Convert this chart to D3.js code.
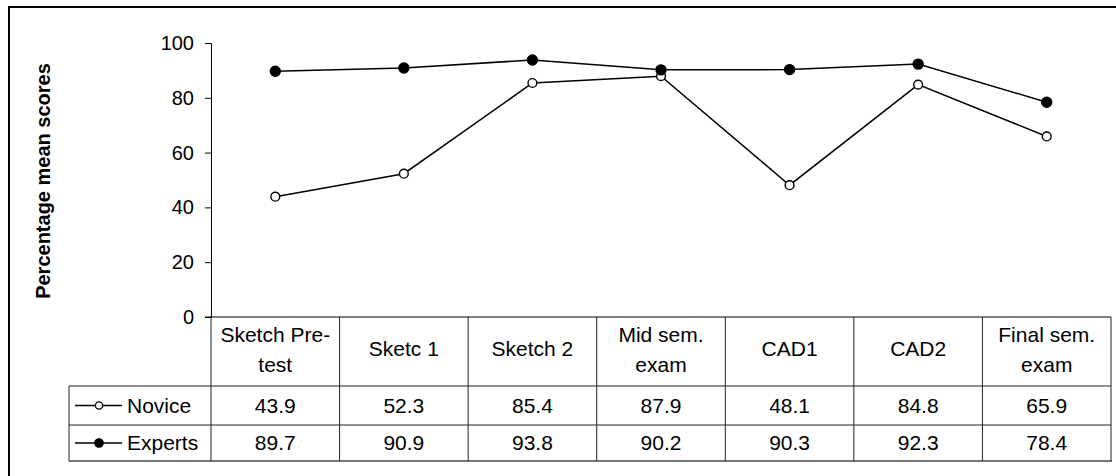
<!DOCTYPE html>
<html>
<head>
<meta charset="utf-8">
<script src="https://cdn.jsdelivr.net/npm/d3@7/dist/d3.min.js"></script>
<style>
  html, body { margin: 0; padding: 0; background: #fff; }
  svg { display: block; font-family: "Liberation Sans", Arial, sans-serif; }
</style>
</head>
<body>
<svg id="chart" width="1116" height="476"></svg>
<script>
// Assessment stages (table header text, split into lines)
const categories = ["Sketch Pre-test", "Sketc 1", "Sketch 2", "Mid sem. exam", "CAD1", "CAD2", "Final sem. exam"];
const categoryLines = [["Sketch Pre-", "test"], ["Sketc 1"], ["Sketch 2"], ["Mid sem.", "exam"], ["CAD1"], ["CAD2"], ["Final sem.", "exam"]];

// Percentage mean scores per group
const noviceScores  = [43.9, 52.3, 85.4, 87.9, 48.1, 84.8, 65.9];
const expertScores  = [89.7, 90.9, 93.8, 90.2, 90.3, 92.3, 78.4];

const seriesNames = ["Novice", "Experts"];
const yTicks = [0, 20, 40, 60, 80, 100];
const yTitle = "Percentage mean scores";

const series = [
  { name: seriesNames[0], values: noviceScores, filled: false },
  { name: seriesNames[1], values: expertScores, filled: true }
];

const svg = d3.select("#chart");

// frame
svg.append("rect")
  .attr("x", 9).attr("y", 7).attr("width", 1130).attr("height", 490)
  .attr("fill", "none").attr("stroke", "#000").attr("stroke-width", 2);

const plotLeft = 211, plotRight = 1111, plotTop = 43, plotBottom = 317;
const headerBottom = 386, row1Bottom = 425, row2Bottom = 461;
const legendLeft = 69;

const x = d3.scaleBand().domain(categories).range([plotLeft, plotRight]);
const y = d3.scaleLinear().domain([0, 100]).range([plotBottom, plotTop]);

// y axis
const yAxis = svg.append("g")
  .attr("transform", `translate(${plotLeft},0)`)
  .call(d3.axisLeft(y).tickValues(yTicks).tickSize(6).tickSizeOuter(6).tickPadding(11));
yAxis.select(".domain").attr("stroke", "#000").attr("stroke-width", 1);
yAxis.selectAll(".tick line").attr("stroke", "#000");
yAxis.selectAll(".tick text")
  .attr("font-size", 20).attr("fill", "#000")
  .attr("font-family", "Liberation Sans, Arial, sans-serif");

svg.append("text")
  .attr("transform", `translate(50,${(plotTop + plotBottom) / 2 + 1}) rotate(-90)`)
  .attr("text-anchor", "middle")
  .attr("font-size", 20).attr("font-weight", "bold")
  .text(yTitle);

// series lines and markers
const line = d3.line()
  .x((d, i) => x(categories[i]) + x.bandwidth() / 2)
  .y(d => y(d));

series.forEach(s => {
  svg.append("path")
    .datum(s.values)
    .attr("d", line)
    .attr("fill", "none").attr("stroke", "#000").attr("stroke-width", 1.5);
  svg.selectAll(null)
    .data(s.values)
    .enter().append("circle")
    .attr("cx", (d, i) => x(categories[i]) + x.bandwidth() / 2)
    .attr("cy", d => y(d))
    .attr("r", s.filled ? 5 : 4.4)
    .attr("fill", s.filled ? "#000" : "#fff")
    .attr("stroke", "#000").attr("stroke-width", 1.4);
});

// data table
const tbl = svg.append("g").attr("stroke", "#222").attr("stroke-width", 1).attr("fill", "none");
// x axis line / header top
tbl.append("line").attr("x1", plotLeft - 6).attr("x2", plotRight).attr("y1", plotBottom).attr("y2", plotBottom).attr("stroke", "#000");
// horizontal rules
tbl.append("line").attr("x1", legendLeft).attr("x2", plotRight).attr("y1", headerBottom).attr("y2", headerBottom);
tbl.append("line").attr("x1", legendLeft).attr("x2", plotRight).attr("y1", row1Bottom).attr("y2", row1Bottom);
tbl.append("line").attr("x1", legendLeft).attr("x2", plotRight + 1).attr("y1", row2Bottom).attr("y2", row2Bottom)
  .attr("stroke", "#777").attr("stroke-width", 2);
// vertical rules
tbl.append("line").attr("x1", legendLeft).attr("x2", legendLeft).attr("y1", headerBottom).attr("y2", row2Bottom);
categories.forEach(c => {
  tbl.append("line").attr("x1", x(c)).attr("x2", x(c)).attr("y1", plotBottom).attr("y2", row2Bottom);
});
tbl.append("line").attr("x1", plotRight).attr("x2", plotRight).attr("y1", plotBottom).attr("y2", row2Bottom);

// header text
const fs = 21;
categories.forEach((c, i) => {
  const lines = categoryLines[i];
  const cx = x(c) + x.bandwidth() / 2;
  const t = svg.append("text").attr("text-anchor", "middle").attr("font-size", fs).attr("fill", "#000");
  if (lines.length === 1) {
    t.append("tspan").attr("x", cx).attr("y", 356).text(lines[0]);
  } else {
    t.append("tspan").attr("x", cx).attr("y", 342).text(lines[0]);
    t.append("tspan").attr("x", cx).attr("y", 372).text(lines[1]);
  }
});

// value rows with legend keys
const rowBaselines = [413, 450];
const rowCenters = [(headerBottom + row1Bottom) / 2, (row1Bottom + row2Bottom) / 2];
series.forEach((s, r) => {
  s.values.forEach((v, i) => {
    svg.append("text")
      .attr("x", x(categories[i]) + x.bandwidth() / 2)
      .attr("y", rowBaselines[r])
      .attr("text-anchor", "middle").attr("font-size", fs)
      .text(d3.format(".1f")(v));
  });
  svg.append("line")
    .attr("x1", 75).attr("x2", 122).attr("y1", rowCenters[r]).attr("y2", rowCenters[r])
    .attr("stroke", "#000").attr("stroke-width", 1.5);
  svg.append("circle")
    .attr("cx", 99).attr("cy", rowCenters[r])
    .attr("r", s.filled ? 4.2 : 3.6)
    .attr("fill", s.filled ? "#000" : "#fff")
    .attr("stroke", "#000").attr("stroke-width", 1.3);
  svg.append("text")
    .attr("x", 127).attr("y", rowBaselines[r])
    .attr("font-size", fs)
    .text(s.name);
});
</script>
</body>
</html>
